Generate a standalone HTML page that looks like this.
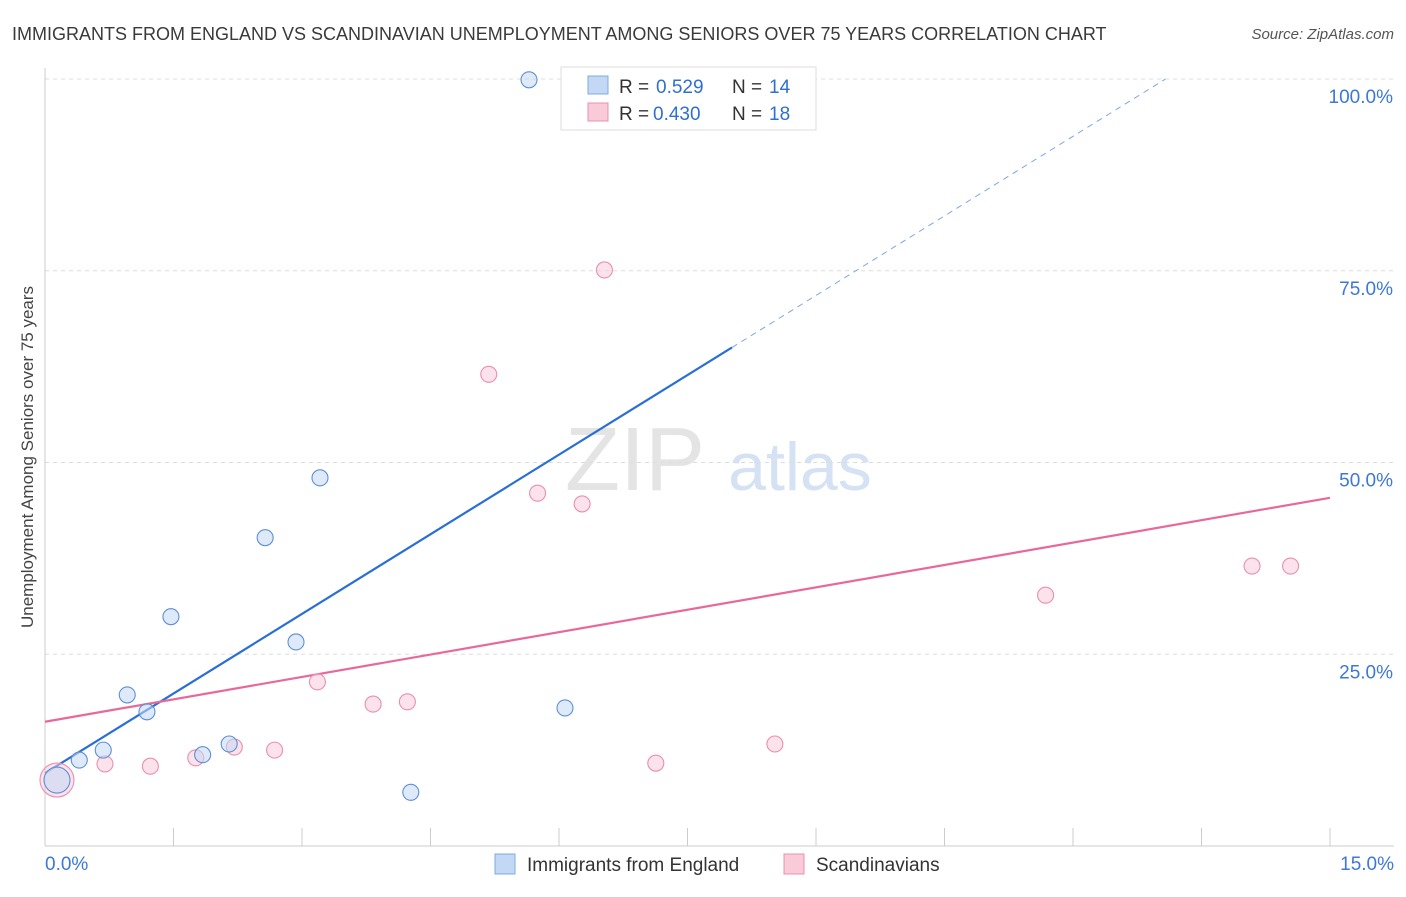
<!DOCTYPE html>
<html><head><meta charset="utf-8"><style>
body{margin:0;background:#fff;font-family:"Liberation Sans",sans-serif;}
svg text{font-family:"Liberation Sans",sans-serif;}
</style></head><body>
<svg id="chart" width="1406" height="892">
<text x="12" y="40" font-size="18" fill="#3a3a3a">IMMIGRANTS FROM ENGLAND VS SCANDINAVIAN UNEMPLOYMENT AMONG SENIORS OVER 75 YEARS CORRELATION CHART</text>
<text x="1394" y="39" font-size="15" fill="#555" text-anchor="end" font-style="italic">Source: ZipAtlas.com</text>
<text x="0" y="0" transform="translate(33,457) rotate(-90)" font-size="17" fill="#444" text-anchor="middle">Unemployment Among Seniors over 75 years</text>
<text x="635" y="490" font-size="90" fill="#e4e4e4" font-family="Liberation Serif" text-anchor="middle">ZIP</text>
<text x="800" y="490" font-size="68" fill="#d5e2f3" text-anchor="middle">atlas</text>
<g id="grid"></g><g id="axes"></g><g id="lines"></g><g id="pts"></g>
<g>
<rect x="561" y="67" width="255" height="63" fill="#fff" stroke="#ddd"/>
<rect x="588" y="76" width="20" height="18" fill="#c3d8f5" stroke="#7fa8e0"/>
<rect x="588" y="103" width="20" height="18" fill="#f9cad8" stroke="#ea90ad"/>
<text x="619" y="93" font-size="19" fill="#333">R =</text>
<text x="656" y="93" font-size="19" fill="#2e6fd0">0.529</text>
<text x="732" y="93" font-size="19" fill="#333">N =</text>
<text x="769" y="93" font-size="19" fill="#2e6fd0">14</text>
<text x="619" y="120" font-size="19" fill="#333">R =</text>
<text x="653" y="120" font-size="19" fill="#2e6fd0">0.430</text>
<text x="732" y="120" font-size="19" fill="#333">N =</text>
<text x="769" y="120" font-size="19" fill="#2e6fd0">18</text>
</g>
<g>
<rect x="495" y="854" width="20" height="20" fill="#c3d8f5" stroke="#7fa8e0"/>
<text x="527" y="871" font-size="19" fill="#333">Immigrants from England</text>
<rect x="784" y="854" width="20" height="20" fill="#f9cad8" stroke="#ea90ad"/>
<text x="816" y="871" font-size="19" fill="#333">Scandinavians</text>
</g>
</svg>
<script>
const blueX=[0.14,0.40,0.68,0.96,1.19,1.47,1.84,2.15,2.57,2.93,3.21,4.27,5.65,6.07];
const blueY=[8.6,11.2,12.5,19.7,17.5,29.9,11.9,13.3,40.2,26.6,48.0,7.0,99.9,18.0];
const pinkX=[0.14,0.70,1.23,1.76,2.21,2.68,3.18,3.83,4.23,5.18,5.75,6.27,6.53,7.13,8.52,11.68,14.09,14.54];
const pinkY=[8.6,10.7,10.4,11.5,12.9,12.5,21.4,18.5,18.8,61.5,46.0,44.6,75.1,10.8,13.3,32.7,36.5,36.5];
const yTicks=[25,50,75,100];
const yTickLabels=["25.0%","50.0%","75.0%","100.0%"];
const blueTrend=[[0,9.5],[8.02,65.0],[13.08,100]];
const pinkTrend=[[0,16.2],[15,45.4]];
const NS="http://www.w3.org/2000/svg";
const xs=v=>45+v/15*1285, ys=v=>846-v/100*767;
function mk(tag,attrs,parent){const e=document.createElementNS(NS,tag);for(const k in attrs)e.setAttribute(k,attrs[k]);parent.appendChild(e);return e;}
const grid=document.getElementById('grid'),axes=document.getElementById('axes'),lines=document.getElementById('lines'),pts=document.getElementById('pts');
yTicks.forEach((t,i)=>{
 const l=mk('line',{x1:45,x2:1394,y1:ys(t),y2:ys(t),stroke:'#ddd','stroke-dasharray':'4,4'},grid);
 
 
 const tx=mk('text',{x:1393,y:ys(t)+24,'font-size':19,fill:'#3d78d6','text-anchor':'end'},axes);
 tx.textContent=yTickLabels[i];
 
 
});
const ax=mk('line',{x1:45,x2:1394,y1:846,y2:846,stroke:'#ccc'},axes);


const ay=mk('line',{x1:45,x2:45,y1:68,y2:846,stroke:'#ccc'},axes);


for(let i=1;i<=10;i++){const t=mk('line',{x1:45+i*128.5,x2:45+i*128.5,y1:828,y2:846,stroke:'#ccc'},axes);
 
 }
[["0.0%",45,'start'],["15.0%",1394,'end']].forEach(a=>{const t=mk('text',{x:a[1],y:870,'font-size':19,fill:'#3d78d6','text-anchor':a[2]},axes);t.textContent=a[0];
 
 });
function pt(x,y,r,fill,stroke){const c=mk('circle',{cx:xs(x),cy:ys(y),r:r,fill:fill,'fill-opacity':0.55,stroke:stroke,'stroke-width':1.1},pts);return c;}
pinkX.forEach((x,i)=>{const c=pt(x,pinkY[i],i===0?17:8,'#f9cad8','#e890ad');
 
 });
blueX.forEach((x,i)=>{const c=pt(x,blueY[i],i===0?13:8,'#c3d8f5','#5e8fd6');
 
 });
const b1=mk('line',{x1:xs(blueTrend[0][0]),y1:ys(blueTrend[0][1]),x2:xs(blueTrend[1][0]),y2:ys(blueTrend[1][1]),stroke:'#2a6fd6','stroke-width':2.2},lines);


const b2=mk('line',{x1:xs(blueTrend[1][0]),y1:ys(blueTrend[1][1]),x2:xs(blueTrend[2][0]),y2:ys(blueTrend[2][1]),stroke:'#7aa6e6','stroke-width':1,'stroke-dasharray':'6,5'},lines);


const p1=mk('line',{x1:xs(pinkTrend[0][0]),y1:ys(pinkTrend[0][1]),x2:xs(pinkTrend[1][0]),y2:ys(pinkTrend[1][1]),stroke:'#e8689a','stroke-width':2.2},lines);


</script>
</body></html>
